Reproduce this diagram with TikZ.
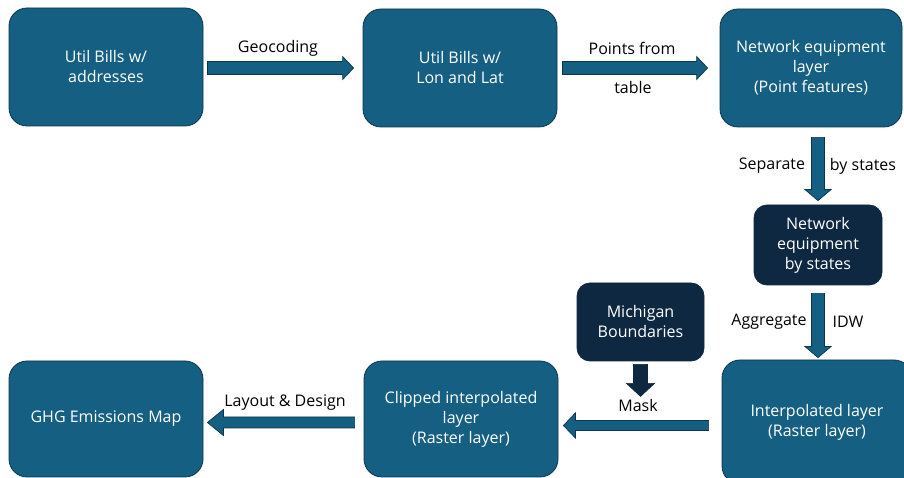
\documentclass[tikz,border=0pt]{standalone}
\usepackage{fontspec}
\setmainfont{Open Sans}
\usetikzlibrary{calc}
\definecolor{boxblue}{HTML}{156082}
\definecolor{boxnavy}{HTML}{0E2841}
\definecolor{edgeline}{HTML}{0B3548}
\begin{document}
\begin{tikzpicture}[x=1pt,y=1pt,
  box/.style={draw=edgeline, line width=0.8pt, fill=boxblue, rounded corners=18pt,
    text=white, align=center, inner sep=0pt, font=\fontsize{16}{20}\selectfont},
  navybox/.style={box, fill=boxnavy, draw=boxnavy, rounded corners=13pt},
  lbl/.style={inner sep=0pt, text=black, font=\fontsize{16}{20}\selectfont},
  % block arrow: half shaft width / half head width / head length
  blockarrow/.style args={#1/#2/#3}{fill=boxblue, draw=edgeline, line width=0.7pt,
    line join=miter,
    to path={
      ($(\tikztotarget)!#3!(\tikztostart)$) coordinate (hb)
      ($(\tikztostart)!#1!90:(\tikztotarget)$)
      -- ($(hb)!#1!90:(\tikztotarget)$)
      -- ($(hb)!#2!90:(\tikztotarget)$)
      -- (\tikztotarget)
      -- ($(hb)!#2!-90:(\tikztotarget)$)
      -- ($(hb)!#1!-90:(\tikztotarget)$)
      -- ($(\tikztostart)!#1!-90:(\tikztotarget)$)
      -- cycle}},
  navyarrow/.style={blockarrow=#1, fill=boxnavy, draw=boxnavy}
]
\useasboundingbox (0,0) rectangle (904,478);
\clip (0,0) rectangle (904,478);

% process boxes
\node[box, minimum width=194pt, minimum height=118pt] (a) at (106,411)
  {Util Bills w/\\addresses};
\node[box, minimum width=194pt, minimum height=118pt] (b) at (460,410)
  {Util Bills w/\\Lon and Lat};
\node[box, minimum width=182pt, minimum height=118pt] (c) at (811,410)
  {Network equipment\\layer\\(Point features)};
\node[navybox, minimum width=128pt, minimum height=80pt] (d) at (818,233)
  {Network\\equipment\\by states};
\node[navybox, minimum width=127pt, minimum height=78pt] (m) at (640.5,156)
  {Michigan\\Boundaries};
\node[box, minimum width=190pt, minimum height=124pt] (e) at (817,56)
  {Interpolated layer\\(Raster layer)};
\node[box, minimum width=194pt, minimum height=116pt] (k) at (461,59)
  {Clipped interpolated\\layer\\(Raster layer)};
\node[box, minimum width=194pt, minimum height=116pt] (g) at (106,59)
  {GHG Emissions Map};

% connectors
\draw[blockarrow=6.5pt/11.5pt/11pt] ($(a.east|-b.west)+(4,0)$) to ($(b.west)+(-9,0)$);
\draw[blockarrow=6.5pt/11.5pt/11pt] ($(b.east)+(5,0)$) to ($(c.west)+(-12,0)$);
\draw[blockarrow=6.5pt/13pt/11pt] ($(c.south-|d.north)+(0,-10)$) to ($(d.north)+(0,4)$);
\draw[blockarrow=6.5pt/13pt/11pt] ($(d.south)+(0,-8)$) to ($(d.south|-e.north)+(0,2)$);
\coordinate (maskpoint) at ($(m.south)+(0,-35)$);
\draw[navyarrow=7pt/14pt/13pt] ($(m.south)+(0,-3)$) to (maskpoint);
\draw[blockarrow=5pt/12.5pt/12pt] ($(e.west)+(-13,-3.5)$) to ($(k.east)+(5,-6.5)$);
\draw[blockarrow=5.5pt/13pt/16pt] ($(k.west)+(-9,-3.5)$) to ($(g.east)+(4,-3.5)$);

% connector labels
\node[lbl] (l1) at (278,430) {Geocoding};
\node[lbl] (l2) at (632,430) {Points from};
\node[lbl] (l3) at (633,390) {table};
\node[lbl] (l4) at (772,312) {Separate};
\node[lbl] (l5) at (863,312) {by states};
\node[lbl] (l6) at (769,156) {Aggregate};
\node[lbl] (l7) at (848,156) {IDW};
\node[lbl] (l8) at (638,72) {Mask};
\node[lbl] (l9) at (285,75) {Layout \& Design};
\end{tikzpicture}
\end{document}
